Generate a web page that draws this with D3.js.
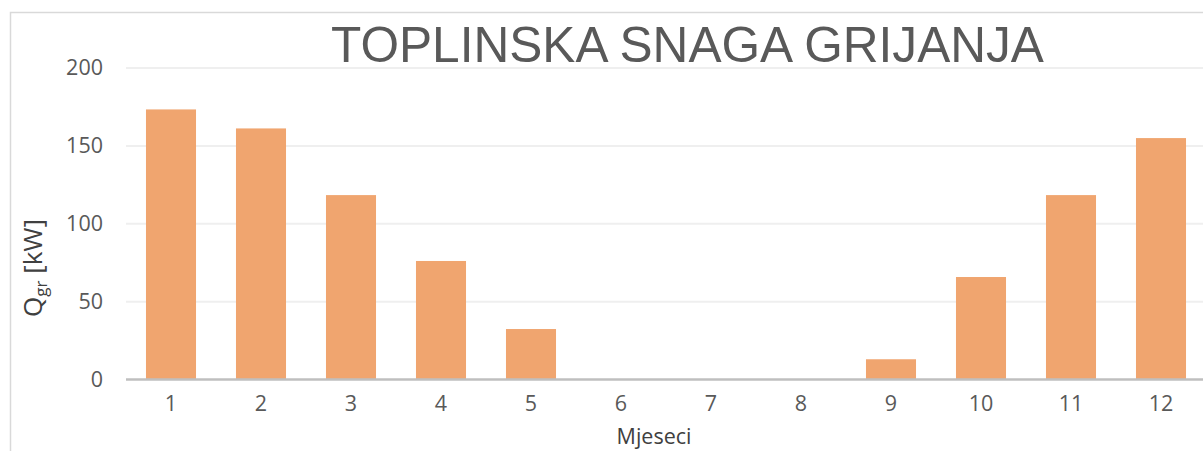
<!DOCTYPE html>
<html>
<head>
<meta charset="utf-8">
<script src="https://cdn.jsdelivr.net/npm/d3@7"></script>
<style>
  html, body { margin: 0; padding: 0; background: #fff; }
  svg { display: block; }
</style>
</head>
<body>
<svg id="chart" width="1203" height="451"></svg>
<script>
const months = ["1","2","3","4","5","6","7","8","9","10","11","12"];
const heatingPower = [173.4, 161.2, 118.4, 76.1, 32.4, 0, 0, 0, 13.0, 65.8, 118.4, 155.0];
const yTicks = [0, 50, 100, 150, 200];
const titleText = "TOPLINSKA SNAGA GRIJANJA";
const xTitle = "Mjeseci";

(function () {
const svg = d3.select("#chart");
const W = 1203, H = 451;
const pLeft = 126, pRight = 1206, pTop = 68, pBottom = 379.5;

// outer chart frame (partially off-canvas)
svg.append("path")
  .attr("d", `M10.5,${H + 5} L10.5,12.5 L${W + 5},12.5`)
  .attr("fill", "none").attr("stroke", "#d9d9d9").attr("stroke-width", 1.5);

const x = d3.scaleBand().domain(months).range([pLeft, pRight]).paddingInner(0.444).paddingOuter(0.222);
const y = d3.scaleLinear().domain([0, 200]).range([pBottom, pTop]);

const fontTick = "'Open Sans', sans-serif";

// gridlines
svg.append("g").selectAll("line").data(yTicks.filter(d => d > 0)).join("line")
  .attr("x1", pLeft).attr("x2", W + 5)
  .attr("y1", d => y(d)).attr("y2", d => y(d))
  .attr("stroke", "#efefef").attr("stroke-width", 2);

// title
svg.append("text")
  .attr("x", 687.5).attr("y", 62)
  .attr("text-anchor", "middle")
  .attr("font-family", "'Liberation Sans', Arial, sans-serif")
  .attr("font-size", 49.6)
  .attr("fill", "#595959")
  .text(titleText);

// bars
svg.append("g").selectAll("rect").data(months).join("rect")
  .attr("x", d => x(d))
  .attr("width", x.bandwidth())
  .attr("y", (d, i) => y(heatingPower[i]))
  .attr("height", (d, i) => y(0) - y(heatingPower[i]))
  .attr("fill", "#f0a56f");

// y axis (labels only)
const yAxis = d3.axisLeft(y).tickValues(yTicks).tickSize(0).tickPadding(23);
const gy = svg.append("g").attr("transform", `translate(${pLeft},0)`).call(yAxis);
gy.select(".domain").remove();
gy.selectAll("text")
  .attr("font-family", fontTick).attr("font-size", 21.5).attr("fill", "#595959");

// x axis
const xAxis = d3.axisBottom(x).tickSize(0).tickPadding(16);
const gx = svg.append("g").attr("transform", `translate(0,${pBottom})`).call(xAxis);
gx.select(".domain").remove();
gx.selectAll("text")
  .attr("font-family", fontTick).attr("font-size", 21.5).attr("fill", "#595959");

// zero baseline
svg.append("line")
  .attr("x1", pLeft).attr("x2", W + 5)
  .attr("y1", y(0)).attr("y2", y(0))
  .attr("stroke", "#bfbfbf").attr("stroke-width", 2.5);

// x title
svg.append("text")
  .attr("x", 654).attr("y", 444)
  .attr("text-anchor", "middle")
  .attr("font-family", fontTick).attr("font-size", 21.5).attr("fill", "#404040")
  .text(xTitle);

// y title
const yt = svg.append("text")
  .attr("transform", "translate(42,268) rotate(-90)")
  .attr("text-anchor", "middle")
  .attr("font-family", fontTick).attr("font-size", 26).attr("fill", "#404040");
yt.append("tspan").text("Q");
yt.append("tspan").attr("font-size", 17).attr("dy", 5).text("gr");
yt.append("tspan").attr("dy", -5).text(" [kW]");
})();
</script>
</body>
</html>
